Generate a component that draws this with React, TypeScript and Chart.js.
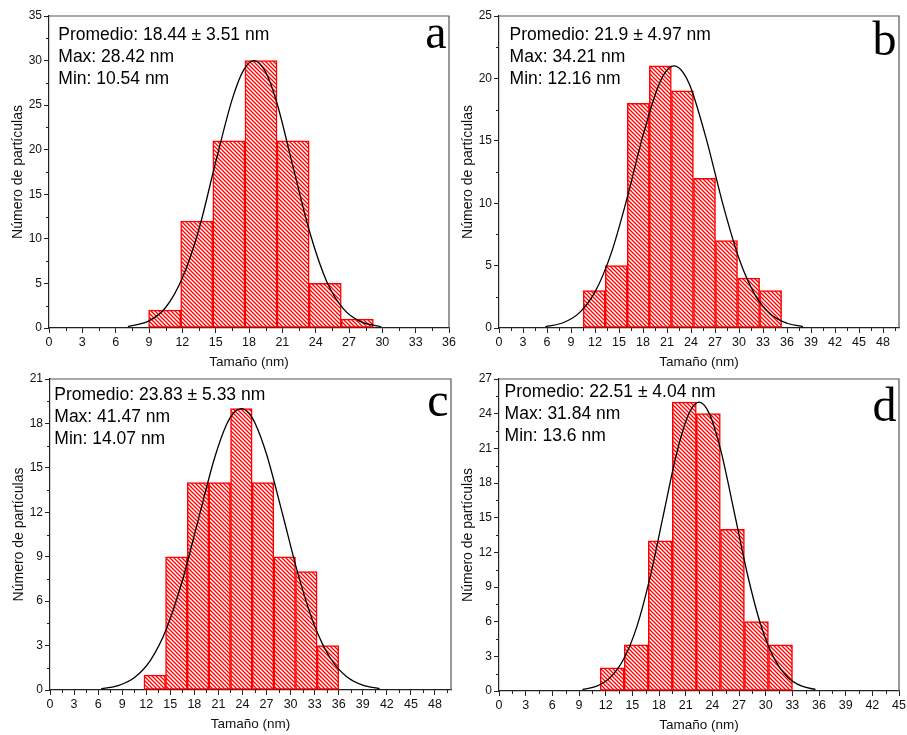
import React, { useEffect, useRef } from "react";
import { Chart, registerables } from "chart.js";

Chart.register(...registerables);

// ---------- Panel a ----------
const aBinCenters = [10.41, 13.3, 16.19, 19.08, 21.97, 24.86, 27.75];
const aCounts = [2, 12, 21, 30, 21, 5, 1];
const aFitX = [7.1, 9, 10.5, 12, 13.5, 15, 16.5, 17.5, 18.44, 19.5, 20.5, 22, 23.5, 25, 26.5, 28, 29.9];
const aFitY = [0.16, 0.8, 2.3, 5.6, 11.1, 18.6, 25.7, 28.9, 30, 28.7, 25.3, 17.9, 10.6, 5.2, 2.15, 0.74, 0.13];
const aStats = ["Promedio: 18.44 \u00b1 3.51 nm", "Max: 28.42 nm", "Min: 10.54 nm"];

// ---------- Panel b ----------
const bBinCenters = [11.9, 14.66, 17.41, 20.17, 22.93, 25.69, 28.44, 31.2, 33.95];
const bCounts = [3, 5, 18, 21, 19, 12, 7, 4, 3];
const bFitX = [5.8, 8, 10, 12, 14, 16, 18, 20, 21, 21.9, 23, 24, 26, 28, 30, 32, 34, 36, 38];
const bFitY = [0.11, 0.42, 1.19, 2.89, 5.94, 10.38, 15.44, 19.52, 20.66, 21, 20.49, 19.21, 14.94, 9.89, 5.57, 2.66, 1.08, 0.38, 0.11];
const bStats = ["Promedio: 21.9 \u00b1 4.97 nm", "Max: 34.21 nm", "Min: 12.16 nm"];

// ---------- Panel c ----------
const cBinCenters = [13.06, 15.76, 18.46, 21.16, 23.86, 26.56, 29.26, 31.96, 34.66];
const cCounts = [1, 9, 14, 14, 19, 14, 9, 8, 3];
const cFitX = [6.4, 8.5, 10.5, 12.5, 14.5, 16.5, 18.5, 20.5, 22, 23, 23.83, 24.8, 25.5, 27, 29, 31, 33, 35, 37, 39, 41.1];
const cFitY = [0.09, 0.3, 0.83, 1.99, 4.11, 7.38, 11.52, 15.63, 17.91, 18.77, 19, 18.69, 18.09, 15.92, 11.87, 7.69, 4.32, 2.11, 0.9, 0.33, 0.1];
const cStats = ["Promedio: 23.83 \u00b1 5.33 nm", "Max: 41.47 nm", "Min: 14.07 nm"];

// ---------- Panel d ----------
const dBinCenters = [12.73, 15.44, 18.14, 20.85, 23.55, 26.26, 28.96, 31.67];
const dCounts = [2, 4, 13, 25, 24, 14, 6, 4];
const dFitX = [9.4, 11, 12.5, 14, 15.5, 17, 18.5, 20, 21.3, 22.51, 23.7, 25, 26.5, 28, 29.5, 31, 32.5, 34, 35.6];
const dFitY = [0.13, 0.43, 1.16, 2.72, 5.55, 9.86, 15.27, 20.61, 23.9, 25, 23.94, 20.67, 15.35, 9.93, 5.6, 2.75, 1.17, 0.44, 0.13];
const dStats = ["Promedio: 22.51 \u00b1 4.04 nm", "Max: 31.84 nm", "Min: 13.6 nm"];

// axis ranges / tick steps
const xMaxes = [36, 50, 50, 45];
const yMaxes = [35, 25, 21, 27];
const yStepSizes = [5, 5, 3, 3];
const xStepSize = 3;
const letters = ["a", "b", "c", "d"];

const X_TITLE = "Tama\u00f1o (nm)";
const Y_TITLE = "N\u00famero de part\u00edculas";

const W = 907;
const H = 735;
const Y_AXIS_W = 49;
const X_AXIS_H = 42;
const AXIS_COLOR = "#222";
const SANS = '"Liberation Sans", Arial, Helvetica, sans-serif';
const SERIF = '"Liberation Serif", "Times New Roman", serif';

type PanelCfg = {
  centers: number[];
  counts: number[];
  fitX: number[];
  fitY: number[];
  stats: string[];
  letter: string;
  xMax: number;
  yMax: number;
  yStep: number;
  area: { l: number; t: number; r: number; b: number };
  textDx: number;
  textDy: number;
  letterDy: number;
};

const panels: PanelCfg[] = [
  {
    centers: aBinCenters, counts: aCounts, fitX: aFitX, fitY: aFitY, stats: aStats, letter: letters[0],
    xMax: xMaxes[0], yMax: yMaxes[0], yStep: yStepSizes[0],
    area: { l: 49, t: 16, r: 449, b: 328 }, textDx: 9.3, textDy: 19, letterDy: 31.5,
  },
  {
    centers: bBinCenters, counts: bCounts, fitX: bFitX, fitY: bFitY, stats: bStats, letter: letters[1],
    xMax: xMaxes[1], yMax: yMaxes[1], yStep: yStepSizes[1],
    area: { l: 499, t: 16, r: 899, b: 328 }, textDx: 10.6, textDy: 19, letterDy: 39,
  },
  {
    centers: cBinCenters, counts: cCounts, fitX: cFitX, fitY: cFitY, stats: cStats, letter: letters[2],
    xMax: xMaxes[2], yMax: yMaxes[2], yStep: yStepSizes[2],
    area: { l: 50, t: 379, r: 451, b: 690 }, textDx: 4.3, textDy: 16, letterDy: 36.7,
  },
  {
    centers: dBinCenters, counts: dCounts, fitX: dFitX, fitY: dFitY, stats: dStats, letter: letters[3],
    xMax: xMaxes[3], yMax: yMaxes[3], yStep: yStepSizes[3],
    area: { l: 499, t: 379, r: 899, b: 691 }, textDx: 5.6, textDy: 12.7, letterDy: 42,
  },
];

function makeHatch(): CanvasPattern | string {
  const c = document.createElement("canvas");
  c.width = 4;
  c.height = 4;
  const g = c.getContext("2d");
  if (!g) return "rgba(255,0,0,0.5)";
  g.fillStyle = "#ffffff";
  g.fillRect(0, 0, 4, 4);
  g.strokeStyle = "#ff0000";
  g.lineWidth = 1.3;
  g.beginPath();
  g.moveTo(-1, -1);
  g.lineTo(5, 5);
  g.moveTo(-1, 3);
  g.lineTo(1, 5);
  g.moveTo(3, -1);
  g.lineTo(5, 1);
  g.stroke();
  return g.createPattern(c, "repeat") || "rgba(255,0,0,0.5)";
}

function Panel({ cfg }: { cfg: PanelCfg }) {
  const ref = useRef<HTMLCanvasElement>(null);

  useEffect(() => {
    const canvas = ref.current;
    if (!canvas) return;
    const hatch = makeHatch();

    const decor = {
      id: "decor",
      afterDraw(chart: any) {
        const { ctx, chartArea: ca } = chart;
        const xs = chart.scales.x;
        const ys = chart.scales.y;
        ctx.save();
        ctx.strokeStyle = AXIS_COLOR;
        ctx.lineWidth = 1;
        ctx.beginPath();
        for (let v = xStepSize / 2; v < cfg.xMax; v += xStepSize) {
          const p = Math.round(xs.getPixelForValue(v)) + 0.5;
          ctx.moveTo(p, ca.bottom);
          ctx.lineTo(p, ca.bottom + 3);
        }
        for (let v = cfg.yStep / 2; v < cfg.yMax; v += cfg.yStep) {
          const p = Math.round(ys.getPixelForValue(v)) + 0.5;
          ctx.moveTo(ca.left, p);
          ctx.lineTo(ca.left - 3, p);
        }
        ctx.stroke();
        ctx.strokeStyle = "#555";
        ctx.lineWidth = 1.2;
        ctx.beginPath();
        ctx.moveTo(ca.left, ca.top);
        ctx.lineTo(ca.right, ca.top);
        ctx.lineTo(ca.right, ca.bottom);
        ctx.stroke();

        ctx.fillStyle = "#000";
        ctx.font = "17.5px " + SANS;
        ctx.textAlign = "left";
        ctx.textBaseline = "middle";
        cfg.stats.forEach((s, i) => {
          ctx.fillText(s, ca.left + cfg.textDx, ca.top + cfg.textDy + i * 22.3);
        });
        ctx.font = "48px " + SERIF;
        ctx.textAlign = "right";
        ctx.textBaseline = "alphabetic";
        ctx.fillText(cfg.letter, ca.right - 2.5, ca.top + cfg.letterDy);
        ctx.restore();
      },
    };

    const chart = new Chart(canvas, {
      type: "bar",
      data: {
        datasets: [
          {
            type: "line",
            data: cfg.fitX.map((x, i) => ({ x, y: cfg.fitY[i] })),
            borderColor: "#000",
            borderWidth: 1.3,
            pointRadius: 0,
            fill: false,
            cubicInterpolationMode: "monotone",
            order: 0,
          } as any,
          {
            type: "bar",
            data: cfg.centers.map((x, i) => ({ x, y: cfg.counts[i] })),
            backgroundColor: hatch as any,
            borderColor: "#ff0000",
            borderWidth: 1.5,
            borderSkipped: false,
            categoryPercentage: 1,
            barPercentage: 1,
            order: 1,
          } as any,
        ],
      },
      options: {
        animation: false,
        responsive: false,
        devicePixelRatio: 1,
        events: [],
        layout: {
          padding: {
            left: cfg.area.l - Y_AXIS_W,
            top: cfg.area.t,
            right: W - cfg.area.r,
            bottom: H - cfg.area.b - X_AXIS_H,
          },
        },
        plugins: {
          legend: { display: false },
          tooltip: { enabled: false },
          title: { display: false },
        },
        scales: {
          x: {
            type: "linear",
            min: 0,
            max: cfg.xMax,
            offset: false,
            grid: {
              offset: false,
              drawOnChartArea: false,
              drawTicks: true,
              tickLength: 5,
              tickColor: AXIS_COLOR,
              tickWidth: 1,
            },
            border: { display: true, color: AXIS_COLOR, width: 1.2 },
            ticks: {
              stepSize: xStepSize,
              includeBounds: false,
              autoSkip: false,
              maxRotation: 0,
              padding: 2,
              color: "#111",
              font: { family: SANS, size: 12.5 },
            },
            title: {
              display: true,
              text: X_TITLE,
              color: "#111",
              font: { family: SANS, size: 13.5 },
              padding: { top: 0, bottom: 0 },
            },
            afterFit(scale: any) {
              scale.height = X_AXIS_H;
              scale.paddingLeft = 0;
              scale.paddingRight = 0;
            },
          } as any,
          y: {
            type: "linear",
            min: 0,
            max: cfg.yMax,
            grid: {
              drawOnChartArea: false,
              drawTicks: true,
              tickLength: 5,
              tickColor: AXIS_COLOR,
              tickWidth: 1,
            },
            border: { display: true, color: AXIS_COLOR, width: 1.2 },
            ticks: {
              stepSize: cfg.yStep,
              autoSkip: false,
              padding: 2,
              color: "#111",
              font: { family: SANS, size: 12 },
            },
            title: {
              display: true,
              text: Y_TITLE,
              color: "#111",
              font: { family: SANS, size: 14 },
              padding: { top: 10, bottom: 0 },
            },
            afterFit(scale: any) {
              scale.width = Y_AXIS_W;
              scale.paddingTop = 0;
              scale.paddingBottom = 0;
            },
          } as any,
        },
      },
      plugins: [decor],
    });

    return () => chart.destroy();
  }, [cfg]);

  return (
    <canvas
      ref={ref}
      width={W}
      height={H}
      style={{ position: "absolute", left: 0, top: 0, width: W, height: H }}
    />
  );
}

export default function App() {
  return (
    <div
      style={{
        position: "fixed",
        left: 0,
        top: 0,
        width: W,
        height: H,
        background: "#fff",
        overflow: "hidden",
      }}
    >
      {panels.map((p, i) => (
        <Panel key={i} cfg={p} />
      ))}
    </div>
  );
}
